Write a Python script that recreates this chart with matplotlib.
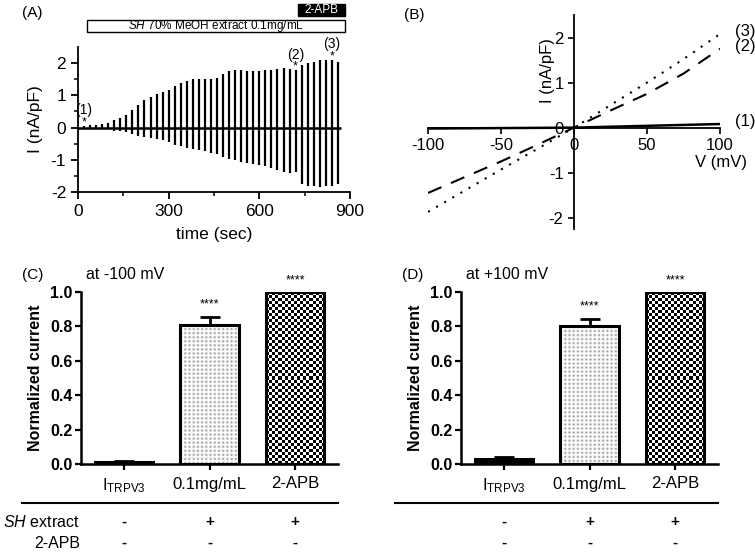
import numpy as np
import matplotlib.pyplot as plt
from matplotlib.lines import Line2D
from matplotlib.patches import Rectangle
import matplotlib.transforms as mtrans

plt.rcParams['font.family'] = ['Liberation Sans', 'DejaVu Sans']
plt.rcParams['mathtext.fontset'] = 'custom'
plt.rcParams['mathtext.rm'] = 'Liberation Sans'
plt.rcParams['mathtext.it'] = 'Liberation Sans:italic'
plt.rcParams['mathtext.bf'] = 'Liberation Sans:bold'
plt.rcParams['axes.unicode_minus'] = False

# (A) current at +100 / -100 mV for every ramp sweep (s, nA/pF)
sweep_t = [20, 40, 60, 80, 100, 120, 140, 160, 180, 200, 220, 240, 260, 280, 300,
           320, 340, 360, 380, 400, 420, 440, 460, 480, 500, 520, 540, 560, 580, 600,
           620, 640, 660, 680, 700, 720, 740, 760, 780, 800, 820, 840, 860]
i_pos = [0.05, 0.07, 0.08, 0.10, 0.15, 0.22, 0.30, 0.40, 0.55, 0.70, 0.85, 0.95, 1.05, 1.10, 1.18,
         1.30, 1.38, 1.45, 1.50, 1.50, 1.50, 1.52, 1.55, 1.65, 1.75, 1.78, 1.78, 1.77, 1.76, 1.76,
         1.78, 1.80, 1.83, 1.85, 1.83, 1.78, 1.95, 2.00, 2.05, 2.10, 2.10, 2.10, 2.05]
i_neg = [-0.02, -0.03, -0.03, -0.04, -0.06, -0.10, -0.12, -0.15, -0.20, -0.25, -0.28, -0.32, -0.36, -0.40, -0.45,
         -0.55, -0.58, -0.62, -0.68, -0.70, -0.72, -0.78, -0.82, -0.90, -0.98, -1.02, -1.08, -1.10, -1.12, -1.15,
         -1.20, -1.25, -1.32, -1.38, -1.40, -1.38, -1.75, -1.80, -1.82, -1.85, -1.82, -1.80, -1.75]
marked_sweeps = {'(1)': 0, '(2)': 35, '(3)': 41}
extract_period = (30, 883)
apb_period = (728, 883)

# (B) I-V relations of the marked sweeps
v_mv = [-100, -75, -50, -25, 0, 25, 50, 75, 100]
iv_1 = [-0.02, -0.015, -0.01, -0.005, 0.0, 0.02, 0.04, 0.06, 0.08]
iv_2 = [-1.45, -1.10, -0.75, -0.38, 0.0, 0.38, 0.75, 1.20, 1.75]
iv_3 = [-1.87, -1.40, -0.93, -0.47, 0.0, 0.50, 1.00, 1.52, 2.08]

# (C)/(D) normalized current
groups = ['$\\mathregular{I_{TRPV3}}$', '0.1mg/mL', '2-APB']
norm_m100 = [0.012, 0.81, 1.0]
sem_m100 = [0.008, 0.045, 0.0]
norm_p100 = [0.028, 0.80, 1.0]
sem_p100 = [0.010, 0.045, 0.0]
sig_marks = ['', '****', '****']
sh_extract = ['-', '+', '+']
apb_added = ['-', '-', '-']

W, H = 755, 552
fig = plt.figure(figsize=(W / 100, H / 100), dpi=100)


def px_axes(l, t, r, b):
    return fig.add_axes([l / W, 1 - b / H, (r - l) / W, (b - t) / H])


def fig_text(x, y, s, **kw):
    fig.text(x / W, 1 - y / H, s, **kw)


# ---------------- (A) ----------------
axA = px_axes(78, 47, 350, 192)
axA.vlines(sweep_t, i_neg, i_pos, color='black', lw=1.6)
axA.hlines(0, 0, sweep_t[-1] + 10, color='black', lw=1.8)
axA.set_xlim(0, 900)
axA.set_ylim(-2, 2.5)
axA.set_xticks([0, 300, 600, 900])
axA.set_xticks([150, 450, 750], minor=True)
axA.set_yticks([-2, -1, 0, 1, 2])
axA.set_yticks([-1.5, -0.5, 0.5, 1.5], minor=True)
for s in ['top', 'right']:
    axA.spines[s].set_visible(False)
for s in ['left', 'bottom']:
    axA.spines[s].set_linewidth(1.3)
axA.tick_params(which='major', length=5, width=1.3, labelsize=12.5)
axA.tick_params(which='minor', length=3, width=1.1)
axA.set_xlabel('time (sec)', fontsize=12.5, labelpad=6)
axA.text(-0.155, 0.5, 'I (nA/pF)', transform=axA.transAxes, rotation=90,
         ha='center', va='center', fontsize=12.5)

for lab, k in marked_sweeps.items():
    axA.text(sweep_t[k], i_pos[k] + 0.12, '*', ha='center', va='center', fontsize=9, clip_on=False)
    axA.text(sweep_t[k], i_pos[k] + 0.48, lab, ha='center', va='center', fontsize=10, clip_on=False)

tA = axA.get_xaxis_transform()
axA.add_patch(Rectangle((extract_period[0], 1.103), extract_period[1] - extract_period[0], 0.083,
                        transform=tA, facecolor='white', edgecolor='black', lw=1.0, clip_on=False))
axA.text(sum(extract_period) / 2, 1.145, '$\\it{SH}$ 70% MeOH extract 0.1mg/mL', transform=tA,
         ha='center', va='center', fontsize=8.5)
axA.add_patch(Rectangle((apb_period[0], 1.214), apb_period[1] - apb_period[0], 0.085,
                        transform=tA, facecolor='black', edgecolor='black', lw=1.0, clip_on=False))
axA.text(sum(apb_period) / 2, 1.256, '2-APB', transform=tA, ha='center', va='center',
         fontsize=8.5, color='white')

# ---------------- (B) ----------------
axB = px_axes(428, 15, 720, 229)
axB.plot(v_mv, iv_1, color='black', lw=1.8, ls='-')
axB.plot(v_mv, iv_2, color='black', lw=1.5, dashes=(7, 5))
axB.plot(v_mv, iv_3, color='black', lw=1.5, dashes=(1, 3.5))
axB.set_xlim(-100, 100)
axB.set_ylim(-2.25, 2.5)
axB.spines['left'].set_position(('data', 0))
axB.spines['bottom'].set_position(('data', 0))
for s in ['top', 'right']:
    axB.spines[s].set_visible(False)
for s in ['left', 'bottom']:
    axB.spines[s].set_linewidth(1.3)
axB.set_xticks([-100, -50, 0, 50, 100])
axB.set_yticks([-2, -1, 0, 1, 2])
axB.tick_params(which='major', length=4, width=1.2, labelsize=12)
axB.text(101, -0.78, 'V (mV)', ha='center', va='center', fontsize=12)
axB.text(-18, 1.27, 'I (nA/pF)', ha='center', va='center', rotation=90, fontsize=12)
for lab, y in zip(['(3)', '(2)', '(1)'], [iv_3[-1], iv_2[-1], iv_1[-1]]):
    axB.text(110, y + 0.05, lab, ha='left', va='center', fontsize=12, clip_on=False)


# ---------------- (C) / (D) ----------------
def texture(ax, bar, pattern, interp):
    x0, y0 = bar.get_x(), bar.get_y()
    im = ax.imshow(pattern, cmap='gray', vmin=0, vmax=1, aspect='auto',
                   extent=(x0, x0 + bar.get_width(), y0, y0 + bar.get_height()),
                   interpolation=interp, zorder=2)
    im.set_clip_path(bar)


def bar_panel(ax, vals, errs, title):
    xs = np.arange(len(vals))
    bars = ax.bar(xs, vals, width=0.68, facecolor='none', edgecolor='black', lw=2.2, zorder=3)
    bars[0].set_facecolor('black')
    # dotted fill for the extract bar
    b = bars[1]
    nr, nc = int(b.get_height() * 86), 28
    dots = np.ones((nr, nc))
    dots[::2, ::2] = 0.62
    texture(ax, b, dots, 'antialiased')
    # checkerboard for 2-APB
    b = bars[2]
    checker = (np.add.outer(np.arange(57), np.arange(19)) % 2).astype(float)
    texture(ax, b, checker, 'nearest')
    ax.errorbar(xs, vals, yerr=[np.zeros(len(errs)), errs], fmt='none', ecolor='black',
                elinewidth=2, capsize=7, capthick=2, zorder=4)
    for x, v, e, m in zip(xs, vals, errs, sig_marks):
        if m:
            ax.text(x, v + e + 0.07, m, ha='center', va='center', fontsize=9)
    ax.set_xlim(-0.5, 2.5)
    ax.set_ylim(0, 1.0)
    ax.set_xticks(xs)
    ax.set_xticklabels(groups, fontsize=12)
    ax.set_yticks([0, 0.2, 0.4, 0.6, 0.8, 1.0])
    ax.set_yticklabels(['0.0', '0.2', '0.4', '0.6', '0.8', '1.0'], fontweight='bold', fontsize=11.5)
    for s in ['top', 'right']:
        ax.spines[s].set_visible(False)
    for s in ['left', 'bottom']:
        ax.spines[s].set_linewidth(1.8)
    ax.tick_params(length=4, width=1.6, pad=2)
    ax.tick_params(axis='x', pad=5)
    ax.set_ylabel('Normalized current', fontsize=11.5, fontweight='bold', labelpad=5)
    ax.text(-0.5 + 0.06, 1.1, title, transform=ax.transData, fontsize=11.5, va='center', clip_on=False)
    tr = mtrans.blended_transform_factory(ax.transData, fig.transFigure)
    for x, a, p in zip(xs, sh_extract, apb_added):
        ax.text(x, 1 - 522 / H, a, transform=tr, ha='center', va='center', fontsize=11, fontweight='bold')
        ax.text(x, 1 - 543 / H, p, transform=tr, ha='center', va='center', fontsize=11, fontweight='bold')


axC = px_axes(81, 292, 338, 464)
bar_panel(axC, norm_m100, sem_m100, 'at -100 mV')
axD = px_axes(461, 292, 718, 464)
bar_panel(axD, norm_p100, sem_p100, 'at +100 mV')

fig.add_artist(Line2D([22 / W, 338 / W], [1 - 503 / H] * 2, color='black', lw=1.5))
fig.add_artist(Line2D([395 / W, 718 / W], [1 - 503 / H] * 2, color='black', lw=1.5))
fig_text(80, 522, '$\\it{SH}$ extract', ha='right', va='center', fontsize=11.5)
fig_text(80, 543, '2-APB', ha='right', va='center', fontsize=11.5)

fig_text(22, 13, '(A)', ha='left', va='center', fontsize=11)
fig_text(404, 15, '(B)', ha='left', va='center', fontsize=11)
fig_text(22, 275, '(C)', ha='left', va='center', fontsize=11)
fig_text(402, 275, '(D)', ha='left', va='center', fontsize=11)

fig.savefig('out.png', dpi=100)
